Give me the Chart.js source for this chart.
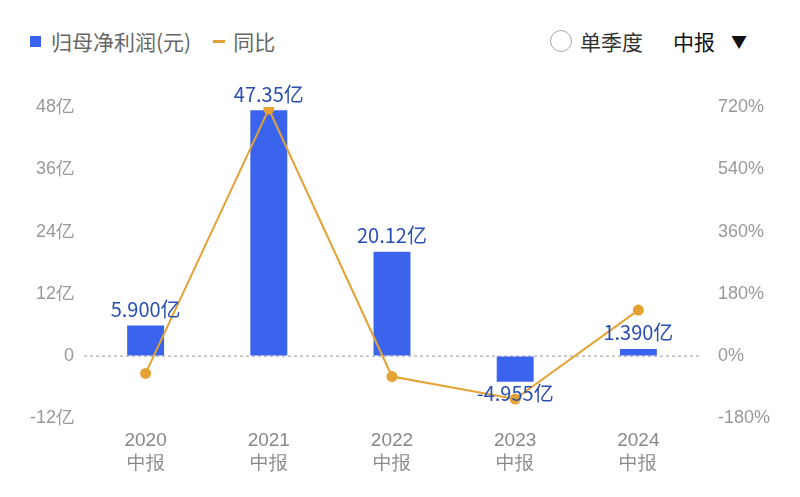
<!DOCTYPE html>
<html><head><meta charset="utf-8">
<script src="https://cdn.jsdelivr.net/npm/chart.js@4"></script>
<style>
body{margin:0;width:800px;height:497px;background:#fff;font-family:"Noto Sans CJK SC",sans-serif;overflow:hidden;position:relative}
#hdr{position:absolute;top:26px;left:30px;font-size:21px;color:#666;display:flex;align-items:center}
#right{position:absolute;top:26px;left:550px;font-size:21px;display:flex;align-items:center;color:#333}
#wrap{position:absolute;left:0;top:70px;width:800px;height:420px}
</style></head><body>
<div id="hdr"><span style="display:inline-block;width:11px;height:11px;background:#3b64ee;margin-right:10px"></span>归母净利润(元)<span style="display:inline-block;width:12px;height:3px;background:#e3a233;margin:0 8px 0 22px"></span>同比</div>
<div id="right"><span style="display:inline-block;width:20px;height:20px;border:1.5px solid #aaa;border-radius:50%;margin-right:8px"></span>单季度<span style="margin-left:30px;color:#111">中报</span><span style="margin-left:16px;font-size:16px;color:#111">▼</span></div>
<div id="wrap"><canvas id="c"></canvas></div>
<script>
const categories=[["2020","中报"],["2021","中报"],["2022","中报"],["2023","中报"],["2024","中报"]];
const profit=[5.9,47.35,20.12,-4.955,1.39];
const profitLabels=["5.900亿","47.35亿","20.12亿","-4.955亿","1.390亿"];
const yoy=[-50,714,-59,-124,133];
const labelPlugin={id:'lbl',afterDatasetsDraw(ch){const ctx=ch.ctx;const m=ch.getDatasetMeta(0);ctx.save();ctx.font='20px "Noto Sans CJK SC"';ctx.fillStyle='#2a4fb0';ctx.textAlign='center';ctx.textBaseline='bottom';
m.data.forEach((b,i)=>{const v=profit[i];ctx.fillText(profitLabels[i],b.x,v>=0?b.y-6:b.y+22);});ctx.restore();}};
new Chart(document.getElementById('c'),{data:{labels:categories,datasets:[
{type:'bar',data:profit,backgroundColor:'#3b64ee',barPercentage:0.3,categoryPercentage:1,yAxisID:'y',order:2},
{type:'line',data:yoy,borderColor:'#e3a233',backgroundColor:'#e3a233',borderWidth:2,pointRadius:4.5,yAxisID:'y1',order:1}]},
options:{responsive:true,maintainAspectRatio:false,animation:false,layout:{padding:{left:20,right:20,top:37,bottom:12}},
plugins:{legend:{display:false},tooltip:{enabled:false}},
scales:{x:{grid:{display:false},border:{display:false},ticks:{color:'#888',font:{size:19}}},
y:{min:-12,max:48,ticks:{stepSize:12,color:'#999',font:{size:18},callback:v=>v===0?'0':v+'亿',padding:10},
grid:{color:'rgba(0,0,0,0)',tickLength:0},border:{display:false}},
y1:{position:'right',min:-180,max:720,ticks:{stepSize:180,color:'#999',font:{size:18},callback:v=>v+'%',padding:10},grid:{display:false},border:{display:false}}}},
plugins:[labelPlugin,{id:'zero',beforeDatasetsDraw(ch){const y=ch.scales.y.getPixelForValue(0);const a=ch.chartArea;const c=ch.ctx;c.save();c.strokeStyle='#999';c.setLineDash([3,3]);c.beginPath();c.moveTo(a.left,y);c.lineTo(a.right,y);c.stroke();c.restore();}}]});
</script></body></html>
